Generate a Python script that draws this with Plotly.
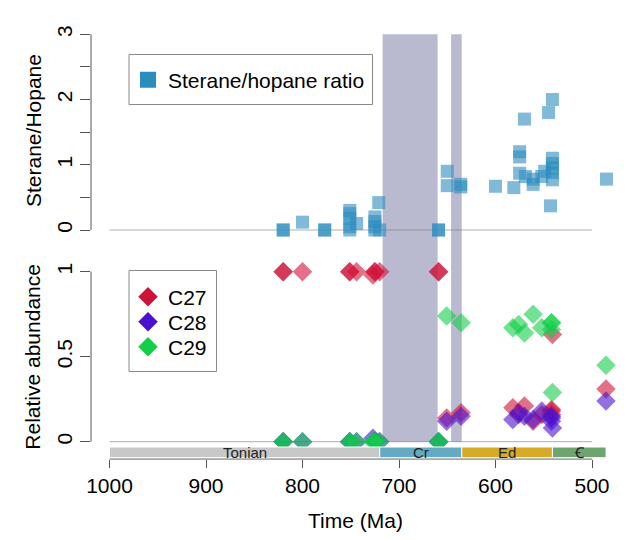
import plotly.graph_objects as go

# ---------------- data ----------------
sh_time = [820, 820, 800, 777, 777, 751, 751, 751, 751, 751, 744, 725, 725, 725, 725, 721, 720,
           659, 659, 650, 650, 636, 636, 600, 581, 575, 575, 575, 570, 569, 561, 561, 552, 549,
           545, 543, 541, 541, 541, 541, 541, 541, 485]
sh_ratio = [0, 0, 0.12, 0, 0, 0.3, 0.25, 0.18, 0.05, 0, 0.1, 0.2, 0.13, 0.05, 0, 0.42, 0,
            0, 0, 0.9, 0.68, 0.7, 0.66, 0.67, 0.65, 1.2, 1.12, 0.87, 1.7, 0.82, 0.78, 0.7, 0.82, 0.9,
            1.8, 0.37, 2.0, 1.1, 1.02, 0.95, 0.77, 0.88, 0.78]

st_time = [820, 820, 800, 751, 751, 744, 727, 725, 725, 720, 659, 659,
           650.6, 635.7, 582, 576, 570, 561, 552, 542, 542, 542, 541, 485.5]
c27 = [1, 1, 1, 1, 1, 1, 0.98, 1, 1, 1, 1, 1,
       0.14, 0.17, 0.20, 0.16, 0.21, 0.12, 0.16, 0.16, 0.18, 0.19, 0.63, 0.31]
c28 = [0, 0, 0, 0, 0, 0, 0.02, 0, 0, 0, 0, 0,
       0.12, 0.15, 0.13, 0.17, 0.15, 0.13, 0.18, 0.14, 0.12, 0.15, 0.08, 0.24]
c29 = [0, 0, 0, 0, 0, 0, 0.0, 0, 0, 0, 0, 0,
       0.74, 0.70, 0.67, 0.69, 0.64, 0.75, 0.67, 0.70, 0.70, 0.66, 0.29, 0.45]

glac_start = [717, 646]
glac_end = [660, 635]

period_names = ["Tonian", "Cr", "Ed", "Ꞓ"]
period_start = [1000, 720, 635, 541]
period_end = [720, 635, 541, 485.4]
period_colors = ["#c8c8c8", "#64aac5", "#d7aa28", "#6ea46e"]

x_ticks = [1000, 900, 800, 700, 600, 500]

# ---------------- layout helpers ----------------
W, H = 630, 540
ML, MR, MT, MB = 91, 4, 20, 81
PW, PH = W - ML - MR, H - MT - MB
px_per_ma = 0.965
x_left = 1000 + (109.5 - ML) / px_per_ma
x_right = x_left - PW / px_per_ma


def py2paper(py):
    return (H - MB - py) / PH


def px2paper(px):
    return (px - ML) / PW


# bottom panel: value 0 at 441.7px, 1 at 271.7px ; domain 459..250 px
b_zero, b_scale = 441.7, 170.0
b_dom = [0, py2paper(250)]
b_rng = [(b_zero - (H - MB)) / b_scale, (b_zero - 250) / b_scale]
# top panel: value 0 at 230px, 3 at 34.3px ; domain 243..20 px
t_zero, t_scale = 230.0, (230 - 34.3) / 3
t_dom = [py2paper(243), 1]
t_rng = [(t_zero - 243) / t_scale, (t_zero - MT) / t_scale]

FONT = "Liberation Sans, Arial, Helvetica, sans-serif"
FS = 21
BLUE = "#2b8cbe"
RED = "#cf1238"
PURPLE = "#4b10cf"
GREEN = "#10cf48"
ALPHA = 0.6


def rgba(hexc, a):
    h = hexc.lstrip("#")
    r, g, b = int(h[0:2], 16), int(h[2:4], 16), int(h[4:6], 16)
    return f"rgba({r},{g},{b},{a})"


fig = go.Figure()

# sterane/hopane squares
fig.add_trace(go.Scatter(x=sh_time, y=sh_ratio, mode="markers", yaxis="y2",
                         marker=dict(symbol="square", size=13, color=rgba(BLUE, ALPHA), line=dict(width=0)),
                         showlegend=False, hoverinfo="skip"))
# steranes diamonds
for vals, col in [(c27, RED), (c28, PURPLE), (c29, GREEN)]:
    fig.add_trace(go.Scatter(x=st_time, y=vals, mode="markers", yaxis="y",
                             marker=dict(symbol="diamond", size=15, color=rgba(col, ALPHA), line=dict(width=0)),
                             showlegend=False, hoverinfo="skip"))

# legend entries (solid colours)
fig.add_trace(go.Scatter(x=[None], y=[None], mode="markers", yaxis="y2", name="Sterane/hopane ratio",
                         marker=dict(symbol="square", size=16, color=BLUE), legend="legend"))
leg_names = ["C27", "C28", "C29"]
leg_cols = [RED, PURPLE, GREEN]
leg_ids = ["legend2", "legend3", "legend4"]
for nm, col, lid in zip(leg_names, leg_cols, leg_ids):
    fig.add_trace(go.Scatter(x=[None], y=[None], mode="markers", yaxis="y", name=nm,
                             marker=dict(symbol="diamond", size=15, color=col), legend=lid))

shapes = []
# glaciation bands spanning from top value 3 to bottom value 0
band_top = py2paper(t_zero - 3 * t_scale)
band_bot = py2paper(b_zero)
for s, e in zip(glac_start, glac_end):
    shapes.append(dict(type="rect", xref="x", yref="paper", x0=s, x1=e, y0=band_bot, y1=band_top,
                       fillcolor="#b9bacf", line=dict(width=0), layer="below"))
# zero lines
shapes.append(dict(type="line", xref="x", yref="y2", x0=1000, x1=500, y0=0, y1=0,
                   line=dict(color="rgba(120,120,120,0.6)", width=1), layer="below"))
shapes.append(dict(type="line", xref="x", yref="y", x0=1000, x1=500, y0=0, y1=0,
                   line=dict(color="rgba(120,120,120,0.6)", width=1), layer="below"))
# axis lines (R style, from first to last tick)
AX = "#555555"
shapes.append(dict(type="line", xref="paper", yref="y2", x0=0, x1=0, y0=0, y1=3, line=dict(color=AX, width=1)))
shapes.append(dict(type="line", xref="paper", yref="y", x0=0, x1=0, y0=0, y1=1, line=dict(color=AX, width=1)))
shapes.append(dict(type="line", xref="x", yref="paper", x0=1000, x1=500, y0=0, y1=0, line=dict(color=AX, width=1)))
# geologic time bar
gb_bot, gb_top = py2paper(457.7), py2paper(447)
annotations = []
for nm, s, e, c in zip(period_names, period_start, period_end, period_colors):
    shapes.append(dict(type="rect", xref="x", yref="paper", x0=s, x1=e, y0=gb_bot, y1=gb_top,
                       fillcolor=c, line=dict(color="white", width=1)))
    annotations.append(dict(x=(s + e) / 2, y=(gb_bot + gb_top) / 2, xref="x", yref="paper", text=nm,
                            showarrow=False, font=dict(family=FONT, size=15, color="#222222"),
                            xanchor="center", yanchor="middle"))
# legend boxes
shapes.append(dict(type="rect", xref="paper", yref="paper", x0=px2paper(129), x1=px2paper(372.5),
                   y0=py2paper(104.5), y1=py2paper(54.5), line=dict(color="#8a8a8a", width=1)))
shapes.append(dict(type="rect", xref="paper", yref="paper", x0=px2paper(129), x1=px2paper(216.5),
                   y0=py2paper(371.5), y1=py2paper(270.5), line=dict(color="#8a8a8a", width=1)))

# axis titles
annotations.append(dict(x=px2paper(33), y=py2paper(131), xref="paper", yref="paper", text="Sterane/Hopane",
                        textangle=-90, showarrow=False, font=dict(family=FONT, size=FS, color="black"),
                        xanchor="center", yanchor="middle"))
annotations.append(dict(x=px2paper(33), y=py2paper(356.7), xref="paper", yref="paper", text="Relative abundance",
                        textangle=-90, showarrow=False, font=dict(family=FONT, size=FS, color="black"),
                        xanchor="center", yanchor="middle"))
annotations.append(dict(x=px2paper(355), y=py2paper(520), xref="paper", yref="paper", text="Time (Ma)",
                        showarrow=False, font=dict(family=FONT, size=FS, color="black"),
                        xanchor="center", yanchor="middle"))

leg_common = dict(xanchor="left", yanchor="middle", bgcolor="rgba(0,0,0,0)", borderwidth=0,
                  font=dict(family=FONT, size=FS, color="black"))
legend_layout = {
    "legend": dict(x=px2paper(128), y=py2paper(80), **leg_common),
}
for lid, py in zip(leg_ids, [297, 322, 347]):
    legend_layout[lid] = dict(x=px2paper(128), y=py2paper(py), **leg_common)

fig.update_layout(
    width=W, height=H, margin=dict(l=ML, r=MR, t=MT, b=MB, pad=0),
    paper_bgcolor="white", plot_bgcolor="white",
    font=dict(family=FONT, size=FS, color="black"),
    xaxis=dict(range=[x_left, x_right], tickvals=x_ticks, ticktext=[str(v) for v in x_ticks],
               ticks="outside", ticklen=8, tickcolor=AX, showline=False, showgrid=False, zeroline=False,
               anchor="y", tickfont=dict(size=FS)),
    yaxis=dict(domain=b_dom, range=b_rng, tickvals=[0, 0.5, 1], ticktext=["0", "0.5", "1"],
               ticks="outside", ticklen=10, tickcolor=AX, tickangle=-90, showline=False, showgrid=False,
               zeroline=False, anchor="x", tickfont=dict(size=FS)),
    yaxis2=dict(domain=t_dom, range=t_rng, tickvals=[0, 0.5, 1, 1.5, 2, 2.5, 3],
                ticktext=["0", "", "1", "", "2", "", "3"],
                ticks="outside", ticklen=10, tickcolor=AX, tickangle=-90, showline=False, showgrid=False,
                zeroline=False, anchor="x", tickfont=dict(size=FS)),
    shapes=shapes, annotations=annotations, showlegend=True,
    **legend_layout,
)

fig.write_html("out.html")
